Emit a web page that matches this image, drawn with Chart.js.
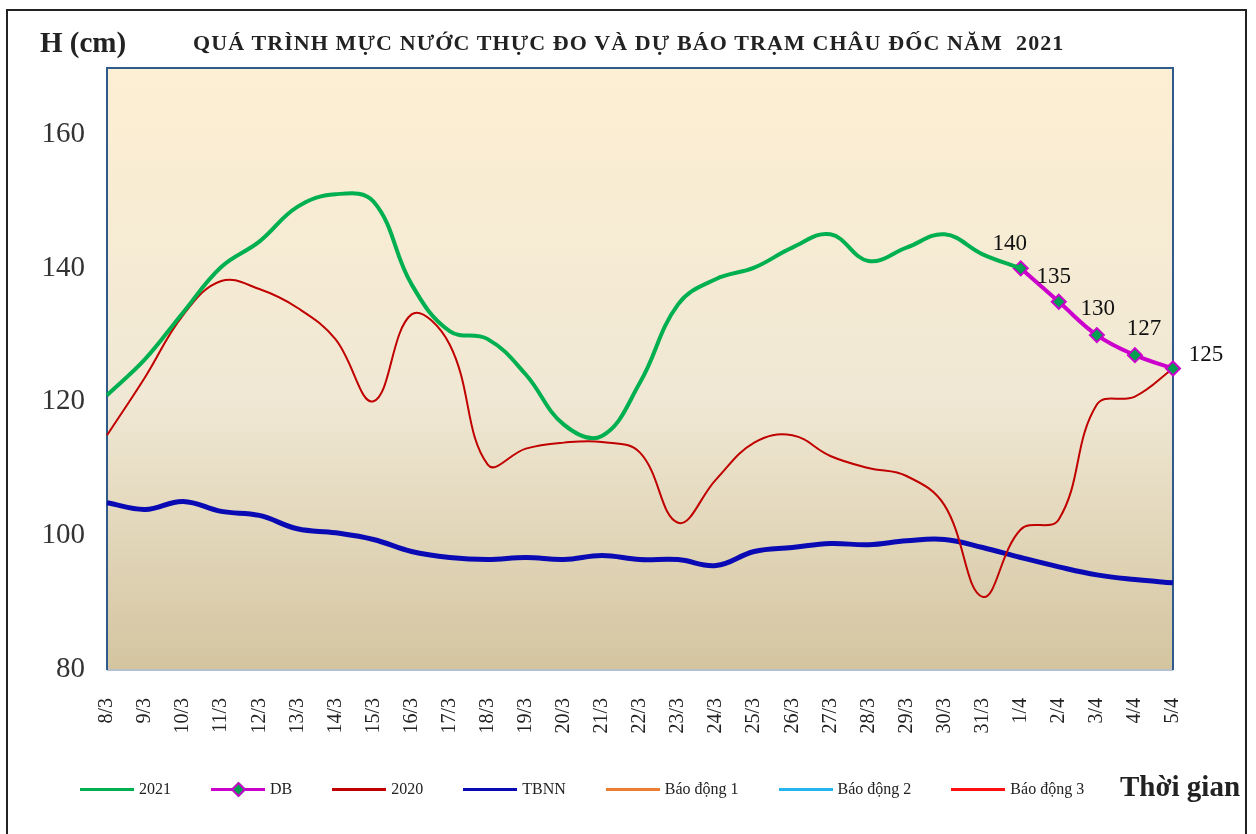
<!DOCTYPE html>
<html>
<head>
<meta charset="utf-8">
<script src="https://cdn.jsdelivr.net/npm/chart.js@4.4.1/dist/chart.umd.min.js"></script>
<style>
    body { margin: 0; background: #fff; font-family: "Liberation Serif", serif; }
    #wrap { position: relative; width: 1256px; height: 834px; overflow: hidden; }
    #frame { position: absolute; left: 6px; top: 9px; width: 1241px; height: 840px; border: 2px solid #222; box-sizing: border-box; }
    #chart { position: absolute; left: 0; top: 0; }
    .txt { position: absolute; color: #222; font-weight: bold; white-space: nowrap; }
    #legend { position: absolute; left: 80px; top: 778px; display: flex; gap: 40px; font-size: 16px; color: #222; }
    #legend .item { display: flex; align-items: center; height: 22px; }
    #legend .line { position: relative; width: 54px; height: 3px; margin-right: 5px; }
    #legend .dia { position: absolute; left: 22px; top: -4px; width: 7px; height: 7px; transform: rotate(45deg); border: 2px solid #cc00cc; background: #00a050; }
</style>
</head>
<body>
<div id="wrap">
    <div id="frame"></div>
    <canvas id="chart" width="1256" height="834"></canvas>
    <div class="txt" style="left:40px; top:26px; font-size:29px;">H (cm)</div>
    <div class="txt" style="left:193px; top:30px; font-size:22px; letter-spacing:1.1px;">QUÁ TRÌNH MỰC NƯỚC THỰC ĐO VÀ DỰ BÁO TRẠM CHÂU ĐỐC NĂM&nbsp; 2021</div>
    <div class="txt" style="left:1120px; top:770px; font-size:29px;">Thời gian</div>
    <div id="legend"></div>
</div>
<script>
// ngày
const days = ["8/3", "9/3", "10/3", "11/3", "12/3", "13/3", "14/3", "15/3", "16/3", "17/3",
    "18/3", "19/3", "20/3", "21/3", "22/3", "23/3", "24/3", "25/3", "26/3", "27/3",
    "28/3", "29/3", "30/3", "31/3", "1/4", "2/4", "3/4", "4/4", "5/4"];

// mực nước thực đo 2021
const h2021 = [121, 126.4, 133.4, 140.2, 144, 149.2, 151.1, 150, 137.6, 130.6,
    129.4, 124.1, 116.6, 114.9, 122.9, 134.6, 138.4, 140.1, 143.1, 145.1,
    141.1, 143.1, 145.1, 142.1, 140, null, null, null, null];

// dự báo
const hDB = [null, null, null, null, null, null, null, null, null, null,
    null, null, null, null, null, null, null, null, null, null,
    null, null, null, null, 140, 135, 130, 127, 125];

// năm 2020
const h2020 = [115, 123.7, 133, 138.1, 136.9, 134.1, 129.4, 120.1, 133.1, 128.6,
    110.6, 113, 113.9, 114, 112.4, 101.9, 108.4, 113.9, 115, 111.9,
    110.1, 108.9, 104.5, 90.8, 100.9, 102.4, 119.6, 120.8, 125];

// trung bình nhiều năm
const hTBNN = [104.9, 103.9, 105.1, 103.6, 103, 101, 100.4, 99.4, 97.6, 96.7,
    96.4, 96.7, 96.4, 97, 96.4, 96.4, 95.5, 97.6, 98.2, 98.8,
    98.6, 99.2, 99.4, 98.2, 96.7, 95.3, 94.1, 93.4, 92.9];

const yTicks = [80, 100, 120, 140, 160];

// các mức báo động nằm ngoài khung nhìn
const baoDong1 = [];
const baoDong2 = [];
const baoDong3 = [];

// vị trí nhãn số của đường dự báo
const dbLabelShift = { 24: [-11, -24], 25: [-5, -25], 26: [1, -26], 27: [9, -26], 28: [33, -14] };

const plotBox = {
    id: "plotBox",
    beforeDatasetsDraw(chart) {
        const a = chart.chartArea, c = chart.ctx;
        c.save();
        const g = c.createLinearGradient(0, a.top, 0, a.bottom);
        g.addColorStop(0, "#fdefd3");
        g.addColorStop(0.55, "#f0e8d4");
        g.addColorStop(1, "#d4c5a0");
        c.fillStyle = g;
        c.fillRect(a.left, a.top, a.right - a.left, a.bottom - a.top);
        c.lineWidth = 2;
        c.strokeStyle = "#b8bfcc";
        c.beginPath();
        c.moveTo(a.left, a.bottom + 1);
        c.lineTo(a.right, a.bottom + 1);
        c.stroke();
        c.strokeStyle = "#2f5a8c";
        c.beginPath();
        c.moveTo(a.left, a.bottom + 1);
        c.lineTo(a.left, a.top);
        c.lineTo(a.right, a.top);
        c.lineTo(a.right, a.bottom + 1);
        c.stroke();
        c.restore();
    },
    afterDatasetsDraw(chart) {
        const meta = chart.getDatasetMeta(1), c = chart.ctx;
        c.save();
        c.font = "23px 'Liberation Serif'";
        c.fillStyle = "#111";
        c.textAlign = "center";
        c.textBaseline = "middle";
        meta.data.forEach((pt, i) => {
            if (hDB[i] == null) return;
            const s = dbLabelShift[i] || [0, -25];
            c.fillText(String(hDB[i]), pt.x + s[0], pt.y + s[1]);
        });
        c.restore();
    }
};

const ctx = document.getElementById("chart").getContext("2d");
const chart = new Chart(ctx, {
    type: "line",
    data: {
        labels: days,
        datasets: [
            { label: "2021", data: h2021, borderColor: "#00b050", borderWidth: 4, pointRadius: 0, tension: 0.4 },
            { label: "DB", data: hDB, borderColor: "#cc00cc", borderWidth: 4, pointStyle: "rectRot", pointRadius: 7,
              pointBackgroundColor: "#00a050", pointBorderColor: "#cc00cc", pointBorderWidth: 2, tension: 0.4, clip: false },
            { label: "2020", data: h2020, borderColor: "#c00000", borderWidth: 2, pointRadius: 0, tension: 0.4 },
            { label: "TBNN", data: hTBNN, borderColor: "#0a0ab4", borderWidth: 5, pointRadius: 0, tension: 0.4 },
            { label: "Báo động 1", data: baoDong1, borderColor: "#ed7d31", borderWidth: 3, pointRadius: 0 },
            { label: "Báo động 2", data: baoDong2, borderColor: "#26b4f0", borderWidth: 3, pointRadius: 0 },
            { label: "Báo động 3", data: baoDong3, borderColor: "#ff1010", borderWidth: 3, pointRadius: 0 }
        ]
    },
    options: {
        responsive: false,
        animation: false,
        layout: { padding: { left: 0, right: 83, top: 68, bottom: 0 } },
        plugins: { legend: { display: false }, tooltip: { enabled: false } },
        scales: {
            x: {
                offset: false,
                grid: { display: false },
                border: { display: false },
                ticks: { minRotation: 90, maxRotation: 90, autoSkip: false, padding: 21,
                         color: "#222", font: { family: "Liberation Serif", size: 20 } },
                afterFit(s) { s.height = 165; }
            },
            y: {
                min: 80,
                max: 170,
                grid: { display: false },
                border: { display: false },
                ticks: { stepSize: 20, padding: 14, color: "#333", font: { family: "Liberation Serif", size: 29 } },
                afterBuildTicks(s) { s.ticks = yTicks.map((v) => ({ value: v })); },
                afterFit(s) { s.width = 107; }
            }
        }
    },
    plugins: [plotBox]
});

// chú thích
const legend = document.getElementById("legend");
chart.data.datasets.forEach((ds) => {
    const item = document.createElement("div");
    item.className = "item";
    const line = document.createElement("div");
    line.className = "line";
    line.style.background = ds.borderColor;
    if (ds.label === "DB") {
        const d = document.createElement("div");
        d.className = "dia";
        line.appendChild(d);
    }
    item.appendChild(line);
    item.appendChild(document.createTextNode(ds.label));
    legend.appendChild(item);
});
</script>
</body>
</html>
